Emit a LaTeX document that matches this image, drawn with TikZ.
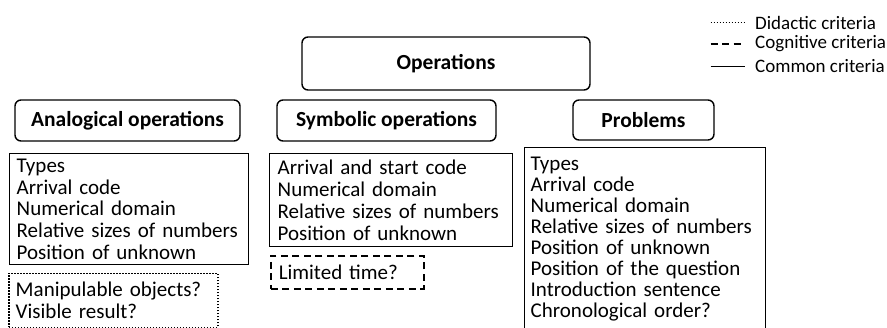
\documentclass[tikz,border=0pt]{standalone}
\usepackage{fontspec}
\setmainfont{Carlito}
\begin{document}
\begin{tikzpicture}[x=1pt,y=-1pt,
  headbox/.style={draw, rounded corners=6pt, line width=1.4pt, inner sep=0pt,
    font=\bfseries\fontsize{21.5}{24}\selectfont},
  listbox/.style={draw, line width=1.4pt, anchor=north west, align=left,
    inner xsep=7pt, inner ysep=0pt, font=\fontsize{21}{21.8}\selectfont},
  didactic/.style={line width=1.5pt, dash pattern=on 1.5pt off 1.5pt},
  cognitive/.style={line width=1.5pt, dash pattern=on 7pt off 4.5pt},
  common/.style={line width=1.5pt},
  legtext/.style={anchor=west, inner sep=0pt, font=\fontsize{19}{21}\selectfont}
]
\clip (0,0) rectangle (887,327);
\fill[white] (0,0) rectangle (887,327);

% heading boxes
\node[headbox, minimum width=288pt, minimum height=53pt] (ops) at (446,63.5) {Operations};
\node[headbox, minimum width=225pt, minimum height=41pt] (ana) at (127.5,120.5) {Analogical operations};
\node[headbox, minimum width=219pt, minimum height=41pt] (sym) at (386.5,120.5) {Symbolic operations};
\node[headbox, minimum width=141pt, minimum height=40pt] (prob) at (643.5,120) {Problems};

% criteria boxes
\node[listbox, text width=225pt, minimum height=111pt] (analist) at (9,153)
  {Types\\Arrival code\\Numerical domain\\Relative sizes of numbers\\Position of unknown};
\node[listbox, didactic, text width=195pt, minimum height=54pt] (anadid) at (8,272.7)
  {Manipulable objects?\\Visible result?};
\node[listbox, inner xsep=8pt, text width=227pt, minimum height=93pt] (symlist) at (269,153)
  {Arrival and start code\\Numerical domain\\Relative sizes of numbers\\Position of unknown};
\node[listbox, cognitive, inner xsep=8pt, text width=137pt, minimum height=33pt] (symcog) at (270,255)
  {Limited time?};
\node[listbox, inner xsep=6pt, text width=229pt, minimum height=182pt,
  font=\fontsize{21}{21}\selectfont] (problist) at (524,147)
  {Types\\Arrival code\\Numerical domain\\Relative sizes of numbers\\Position of unknown\\Position of the question\\Introduction sentence\\Chronological order?};

% legend
\coordinate (d1) at (710.5,22.7);
\coordinate (d2) at (745,22.7);
\coordinate (c1) at (710.5,44);
\coordinate (c2) at (745,44);
\coordinate (m1) at (710.5,66.5);
\coordinate (m2) at (745,66.5);
\draw[didactic] (d1) -- (d2);
\draw[cognitive] (c1) -- (c2);
\draw[common] (m1) -- (m2);
\node[legtext] (ld) at (755,22.7) {Didactic criteria};
\node[legtext] (lc) at (755,44) {Cognitive criteria};
\node[legtext] (lm) at (755,66.5) {Common criteria};
\end{tikzpicture}
\end{document}
